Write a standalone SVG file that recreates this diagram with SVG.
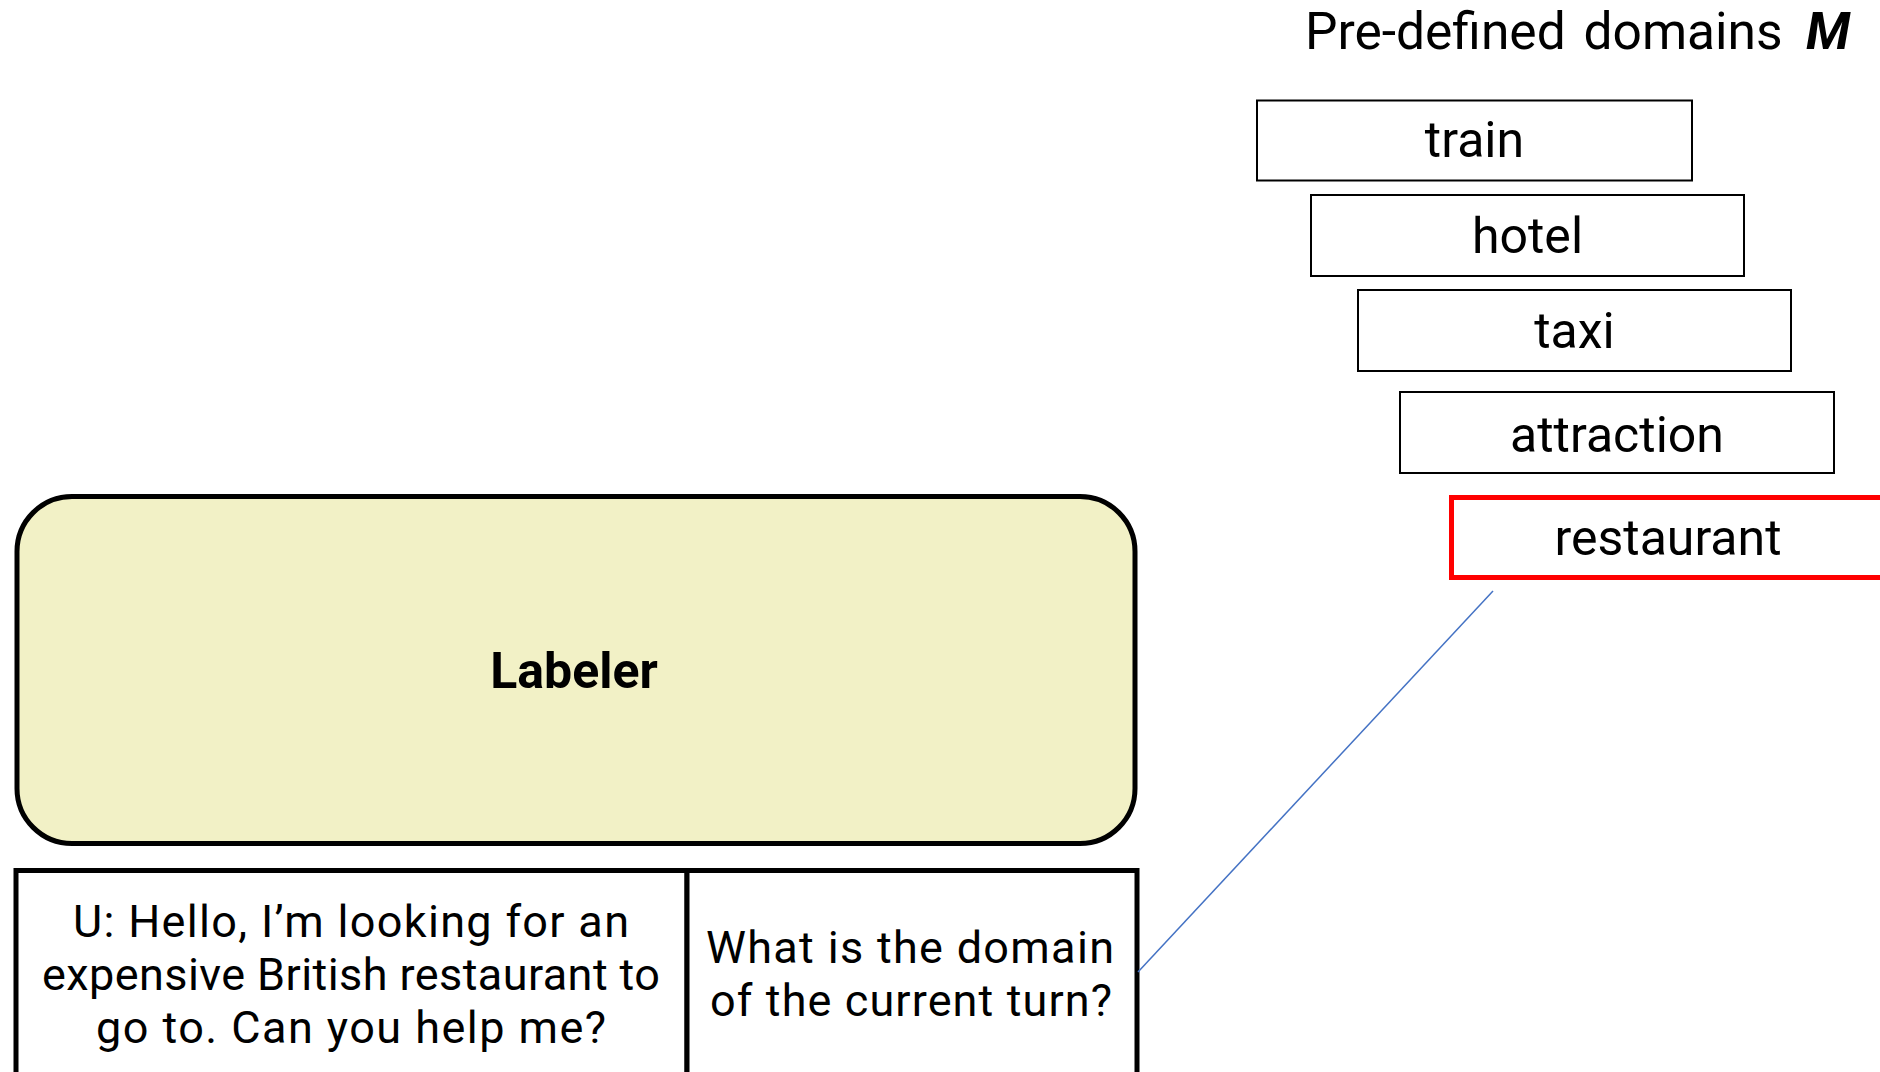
<svg xmlns="http://www.w3.org/2000/svg" width="1880" height="1072" viewBox="0 0 1880 1072">
  <style>
    .t { font-family: Roboto, "Noto Sans", sans-serif; fill: #000; }
    .dom { fill: #fff; stroke: #000; stroke-width: 2; }
    .domtxt { font-size: 50px; text-anchor: middle; }
    .cell { font-size: 45px; text-anchor: middle; }
  </style>
  <rect width="1880" height="1072" fill="#fff"/>

  <!-- heading of the domain list -->
  <text id="title" class="t" x="1305" y="49" font-size="51.5" word-spacing="5">Pre-defined domains <tspan x="1806" font-weight="bold" font-style="italic" font-size="52">M</tspan></text>

  <!-- domain boxes -->
  <g id="train">
    <rect class="dom" x="1257" y="100.5" width="435" height="80"/>
    <text class="t domtxt" x="1474.5" y="157">train</text>
  </g>
  <g id="hotel">
    <rect class="dom" x="1311" y="195" width="433" height="81"/>
    <text class="t domtxt" x="1527.5" y="253">hotel</text>
  </g>
  <g id="taxi">
    <rect class="dom" x="1358" y="290" width="433" height="81"/>
    <text class="t domtxt" x="1574.5" y="348">taxi</text>
  </g>
  <g id="attraction">
    <rect class="dom" x="1400" y="392" width="434" height="81"/>
    <text class="t domtxt" x="1617" y="452">attraction</text>
  </g>
  <g id="restaurant">
    <rect x="1451.5" y="497.5" width="436" height="80" fill="#fff" stroke="#ff0000" stroke-width="5"/>
    <text class="t domtxt" x="1668" y="555">restaurant</text>
  </g>

  <!-- labeler block -->
  <g id="labeler">
    <rect x="17" y="496.5" width="1118" height="347" rx="55" ry="55" fill="#f2f1c6" stroke="#000" stroke-width="5"/>
    <text class="t" x="574" y="688" font-size="50" font-weight="bold" text-anchor="middle">Labeler</text>
  </g>

  <!-- input table: dialogue turn and question -->
  <g id="dialogue">
    <rect x="16" y="870.5" width="671" height="230" fill="#fff" stroke="#000" stroke-width="5"/>
    <text class="t cell" x="351" y="937" textLength="556">U: Hello, I’m looking for an</text>
    <text class="t cell" x="351" y="990" textLength="618">expensive British restaurant to</text>
    <text class="t cell" x="351" y="1043" textLength="510">go to. Can you help me?</text>
  </g>
  <g id="question">
    <rect x="687" y="870.5" width="450" height="230" fill="#fff" stroke="#000" stroke-width="5"/>
    <text class="t cell" x="910" y="963" textLength="408">What is the domain</text>
    <text class="t cell" x="911" y="1016" textLength="402">of the current turn?</text>
  </g>

  <!-- connectors -->
  <g id="connectors">
    <line x1="1493" y1="591" x2="1138" y2="972" stroke="#4472c4" stroke-width="1.5"/>
  </g>
</svg>
